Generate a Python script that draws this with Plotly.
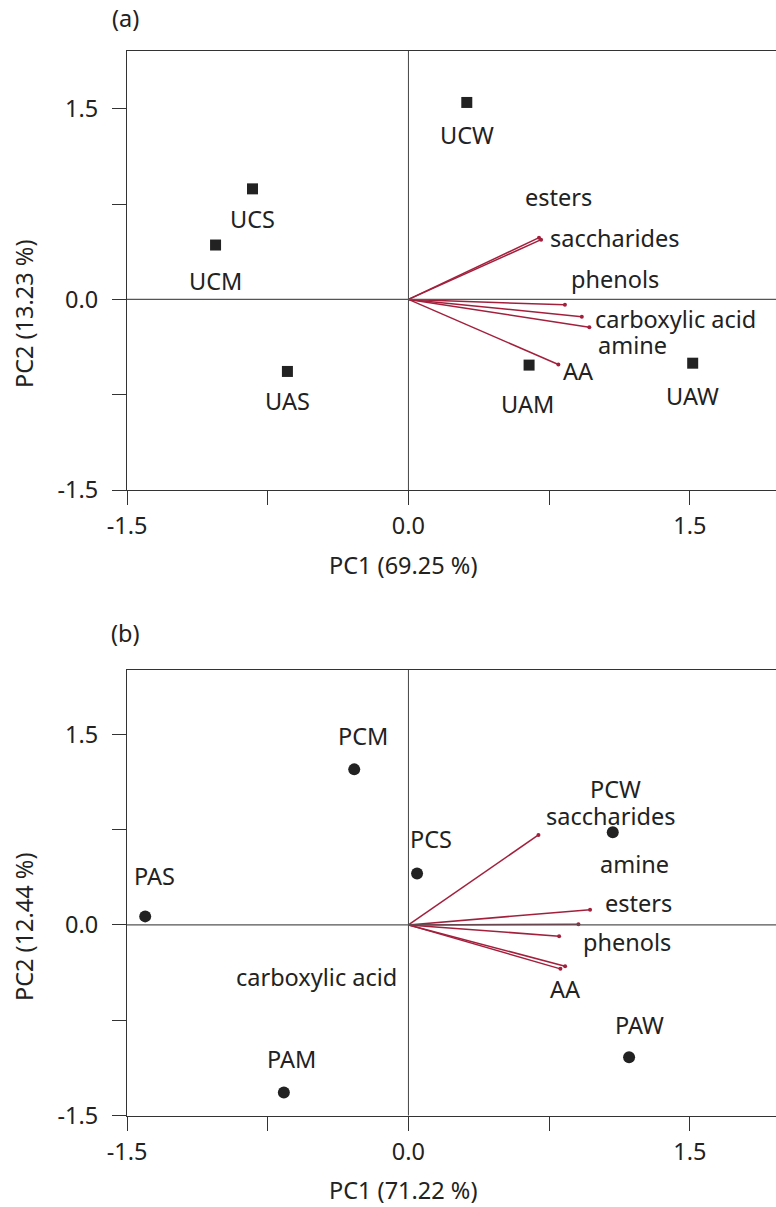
import plotly.graph_objects as go

# ---------------- data ----------------
A_SAMPLES = ["UCW", "UCS", "UCM", "UAS", "UAM", "UAW"]
A_PC1 = [0.311, -0.831, -1.028, -0.645, 0.643, 1.515]
A_PC2 = [1.550, 0.870, 0.428, -0.567, -0.517, -0.502]

A_VARS = ["esters", "saccharides", "phenols", "carboxylic acid", "amine", "AA"]
A_LOAD1 = [0.696, 0.707, 0.834, 0.924, 0.964, 0.799]
A_LOAD2 = [0.486, 0.470, -0.043, -0.136, -0.220, -0.512]

B_SAMPLES = ["PCM", "PCS", "PAS", "PAM", "PCW", "PAW"]
B_PC1 = [-0.289, 0.046, -1.403, -0.664, 1.089, 1.176]
B_PC2 = [1.224, 0.405, 0.067, -1.319, 0.730, -1.042]

B_VARS = ["saccharides", "amine", "esters", "phenols", "AA", "carboxylic acid"]
B_LOAD1 = [0.693, 0.906, 0.968, 0.803, 0.835, 0.810]
B_LOAD2 = [0.708, 0.005, 0.120, -0.089, -0.325, -0.346]

A_XTITLE, A_YTITLE = "PC1 (69.25 %)", "PC2 (13.23 %)"
B_XTITLE, B_YTITLE = "PC1 (71.22 %)", "PC2 (12.44 %)"
TICKVALS = [-1.5, -0.75, 0.0, 0.75, 1.5]
TICKTEXT = ["-1.5", "", "0.0", "", "1.5"]

# ---------------- layout helpers (positions / styles) ----------------
W, H = 776, 1207
ML = 127
FONT = "Noto Sans"
FS = 23.5
TXT = "#222222"
AX = "#333333"
VEC = "#a3203d"

# label positions (data coords) for loading labels
A_VLABEL_POS = [(0.802, 0.802), (1.096, 0.486), (1.101, 0.162),
                (1.421, -0.154), (1.192, -0.359), (0.904, -0.565)]
B_VLABEL_POS = [(1.075, 0.860), (1.203, 0.476), (1.224, 0.169),
                (1.165, -0.138), (0.835, -0.507), (-0.491, -0.413)]
# pixel shifts for sample labels
A_SHIFT = [(0, -33), (0, -30), (0, -36), (0, -30), (-2, -39), (0, -33)]
B_SHIFT = [(9, 33), (14, 34), (9, 40), (8, 34), (3, 43), (10, 32)]


def px(x):
    return (x - ML) / (W - ML)


def py(y):
    return 1 - y / H


fig = go.Figure()
annotations = []


def panel(xa, ya, samples, pc1, pc2, symbol, msize, vars_, l1, l2, vpos, shifts):
    # loading vectors
    lx, ly = [], []
    for a, b in zip(l1, l2):
        lx += [0, a, None]
        ly += [0, b, None]
    fig.add_trace(go.Scatter(x=lx, y=ly, mode="lines", xaxis=xa, yaxis=ya,
                             line=dict(color=VEC, width=1.5), hoverinfo="skip",
                             showlegend=False))
    fig.add_trace(go.Scatter(x=l1, y=l2, mode="markers", xaxis=xa, yaxis=ya,
                             marker=dict(color=VEC, size=4), text=vars_,
                             showlegend=False))
    # samples
    fig.add_trace(go.Scatter(x=pc1, y=pc2, mode="markers", xaxis=xa, yaxis=ya,
                             marker=dict(color=TXT, size=msize, symbol=symbol),
                             text=samples, showlegend=False))
    for s, x, y, (dx, dy) in zip(samples, pc1, pc2, shifts):
        annotations.append(dict(x=x, y=y, xref=xa, yref=ya, text=s,
                                showarrow=False, xshift=dx, yshift=dy,
                                font=dict(family=FONT, size=FS, color=TXT)))
    for v, (x, y) in zip(vars_, vpos):
        annotations.append(dict(x=x, y=y, xref=xa, yref=ya, text=v,
                                showarrow=False,
                                font=dict(family=FONT, size=FS, color=TXT)))


panel("x", "y", A_SAMPLES, A_PC1, A_PC2, "square", 11,
      A_VARS, A_LOAD1, A_LOAD2, A_VLABEL_POS, A_SHIFT)
panel("x2", "y2", B_SAMPLES, B_PC1, B_PC2, "circle", 12,
      B_VARS, B_LOAD1, B_LOAD2, B_VLABEL_POS, B_SHIFT)


def xaxis(anchor):
    return dict(domain=[0, 1], anchor=anchor, range=[-1.5, 1.959],
                tickvals=TICKVALS, ticktext=TICKTEXT, ticks="outside",
                ticklen=14, tickwidth=1, tickcolor=AX, showline=True,
                linecolor=AX, linewidth=1, mirror=True, showgrid=False,
                zeroline=False, ticklabelstandoff=1, automargin=False,
                tickfont=dict(family=FONT, size=FS, color=TXT))


def yaxis(anchor, dom, top):
    return dict(domain=dom, anchor=anchor, range=[-1.5, top],
                tickvals=TICKVALS, ticktext=TICKTEXT, ticks="outside",
                ticklen=14, tickwidth=1, tickcolor=AX, showline=True,
                linecolor=AX, linewidth=1, mirror=False, showgrid=False,
                zeroline=False, ticklabelstandoff=9, automargin=False,
                tickfont=dict(family=FONT, size=FS, color=TXT))


# zero lines on each panel
shapes = []
for xr, yr in (("x", "y"), ("x2", "y2")):
    shapes.append(dict(type="line", xref=xr, yref=yr + " domain", x0=0, x1=0,
                       y0=0, y1=1, line=dict(color="#444444", width=1)))
    shapes.append(dict(type="line", xref=xr + " domain", yref=yr, x0=0, x1=1,
                       y0=0, y1=0, line=dict(color="#555555", width=1.2)))

for t, x, y, ang in [("(a)", 125, 18, 0), ("(b)", 125, 633, 0),
                     (A_XTITLE, 403, 565, 0), (B_XTITLE, 403, 1190, 0),
                     (A_YTITLE, 24, 314, -90), (B_YTITLE, 24, 927, -90)]:
    annotations.append(dict(x=px(x), y=py(y), xref="paper", yref="paper",
                            text=t, showarrow=False, textangle=ang,
                            xanchor="center", yanchor="middle",
                            font=dict(family=FONT, size=FS, color=TXT)))

fig.update_layout(
    width=W, height=H, margin=dict(l=ML, r=0, t=0, b=0, autoexpand=False),
    paper_bgcolor="white", plot_bgcolor="white",
    xaxis=xaxis("y"), yaxis=yaxis("x", [py(490), py(51)], 1.955),
    xaxis2=xaxis("y2"), yaxis2=yaxis("x2", [py(1115.5), py(670)], 2.006),
    annotations=annotations, shapes=shapes, showlegend=False,
    font=dict(family=FONT, size=FS, color=TXT),
)

fig.write_html("out.html")
